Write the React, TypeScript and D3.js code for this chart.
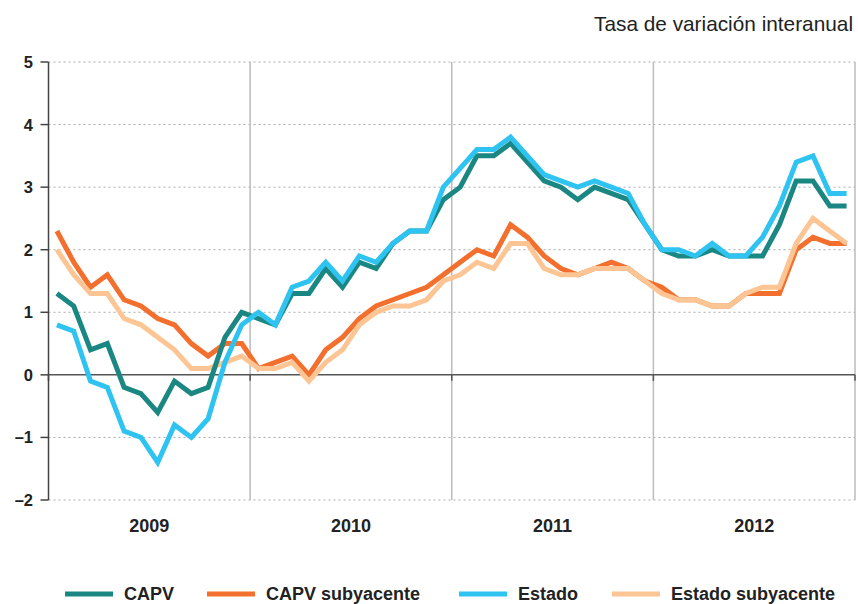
import React from "react";
import * as d3 from "d3";

const years = ["2009", "2010", "2011", "2012"];
const yTicks = [-2, -1, 0, 1, 2, 3, 4, 5];

const capv = [1.3, 1.1, 0.4, 0.5, -0.2, -0.3, -0.6, -0.1, -0.3, -0.2, 0.6, 1.0,
  0.9, 0.8, 1.3, 1.3, 1.7, 1.4, 1.8, 1.7, 2.1, 2.3, 2.3, 2.8,
  3.0, 3.5, 3.5, 3.7, 3.4, 3.1, 3.0, 2.8, 3.0, 2.9, 2.8, 2.4,
  2.0, 1.9, 1.9, 2.0, 1.9, 1.9, 1.9, 2.4, 3.1, 3.1, 2.7, 2.7];
const estado = [0.8, 0.7, -0.1, -0.2, -0.9, -1.0, -1.4, -0.8, -1.0, -0.7, 0.2, 0.8,
  1.0, 0.8, 1.4, 1.5, 1.8, 1.5, 1.9, 1.8, 2.1, 2.3, 2.3, 3.0,
  3.3, 3.6, 3.6, 3.8, 3.5, 3.2, 3.1, 3.0, 3.1, 3.0, 2.9, 2.4,
  2.0, 2.0, 1.9, 2.1, 1.9, 1.9, 2.2, 2.7, 3.4, 3.5, 2.9, 2.9];
const capvSub = [2.3, 1.8, 1.4, 1.6, 1.2, 1.1, 0.9, 0.8, 0.5, 0.3, 0.5, 0.5,
  0.1, 0.2, 0.3, 0.0, 0.4, 0.6, 0.9, 1.1, 1.2, 1.3, 1.4, 1.6,
  1.8, 2.0, 1.9, 2.4, 2.2, 1.9, 1.7, 1.6, 1.7, 1.8, 1.7, 1.5,
  1.4, 1.2, 1.2, 1.1, 1.1, 1.3, 1.3, 1.3, 2.0, 2.2, 2.1, 2.1];
const estadoSub = [2.0, 1.6, 1.3, 1.3, 0.9, 0.8, 0.6, 0.4, 0.1, 0.1, 0.2, 0.3,
  0.1, 0.1, 0.2, -0.1, 0.2, 0.4, 0.8, 1.0, 1.1, 1.1, 1.2, 1.5,
  1.6, 1.8, 1.7, 2.1, 2.1, 1.7, 1.6, 1.6, 1.7, 1.7, 1.7, 1.5,
  1.3, 1.2, 1.2, 1.1, 1.1, 1.3, 1.4, 1.4, 2.1, 2.5, 2.3, 2.1];

const seriesNames = ["CAPV", "CAPV subyacente", "Estado", "Estado subyacente"];
const seriesColors = ["#1b8782", "#f26f2d", "#2fc3f1", "#fcc593"];

export default function App() {
  const W = 858, H = 604;
  const left = 48.5, right = 855, top = 62, bottom = 500;
  const n = capv.length;
  const x = d3.scaleLinear().domain([-0.5, n - 0.5]).range([left, right]);
  const y = d3.scaleLinear().domain([-2, 5]).range([bottom, top]);
  const line = d3.line<number>().x((_, i) => x(i)).y((d) => y(d)).curve(d3.curveLinear);

  const data = [capv, capvSub, estado, estadoSub];
  const drawOrder = [1, 3, 0, 2];
  const font = "'Liberation Sans', Arial, Helvetica, sans-serif";
  const boundaries = years.map((_, k) => x(12 * (k + 1) - 0.5));

  const legendX = [65, 207, 459, 612];

  return (
    <svg width={W} height={H} style={{ position: "absolute", left: 0, top: 0, fontFamily: font }}>
      <rect width={W} height={H} fill="#fff" />
      <text x={853} y={31} textAnchor="end" fontSize={20.8} fill="#222">Tasa de variación interanual</text>
      {yTicks.filter((t) => t !== 0).map((t) => (
        <line key={"g" + t} x1={left} x2={right} y1={y(t)} y2={y(t)} stroke="#aaa" strokeWidth={1} strokeDasharray="2,3" />
      ))}
      {boundaries.map((b, k) => (
        <line key={"v" + k} x1={b} x2={b} y1={top} y2={bottom} stroke="#bbb" strokeWidth={1.5} />
      ))}
      <line x1={left} x2={right} y1={y(0)} y2={y(0)} stroke="#555" strokeWidth={1.5} />
      {boundaries.map((b, k) => (
        <line key={"zt" + k} x1={b} x2={b} y1={y(0)} y2={y(0) + 6} stroke="#555" strokeWidth={1.5} />
      ))}
      <line x1={left} x2={left} y1={top} y2={bottom} stroke="#444" strokeWidth={1.5} />
      <line x1={left} x2={left} y1={y(0)} y2={y(0) + 6} stroke="#444" strokeWidth={1.5} />
      {yTicks.map((t) => (
        <g key={"t" + t}>
          <line x1={left - 8} x2={left} y1={y(t)} y2={y(t)} stroke="#444" strokeWidth={1.5} />
          <text x={33} y={y(t)} dy="0.36em" textAnchor="end" fontSize={16.5} fontWeight="bold" fill="#222">
            {t < 0 ? "\u2013" + Math.abs(t) : String(t)}
          </text>
        </g>
      ))}
      {years.map((yr, k) => (
        <text key={yr} x={(x(12 * k - 0.5) + x(12 * k + 11.5)) / 2} y={532} textAnchor="middle" fontSize={18} fontWeight="bold" fill="#222">{yr}</text>
      ))}
      {drawOrder.map((si) => (
        <path key={"s" + si} d={line(data[si]) || ""} fill="none" stroke={seriesColors[si]} strokeWidth={5} strokeLinejoin="miter" />
      ))}
      {seriesNames.map((nm, i) => (
        <g key={nm}>
          <line x1={legendX[i]} x2={legendX[i] + 48} y1={594} y2={594} stroke={seriesColors[i]} strokeWidth={5} />
          <text x={legendX[i] + 59} y={599.5} fontSize={18} fontWeight="bold" fill="#222">{nm}</text>
        </g>
      ))}
    </svg>
  );
}
